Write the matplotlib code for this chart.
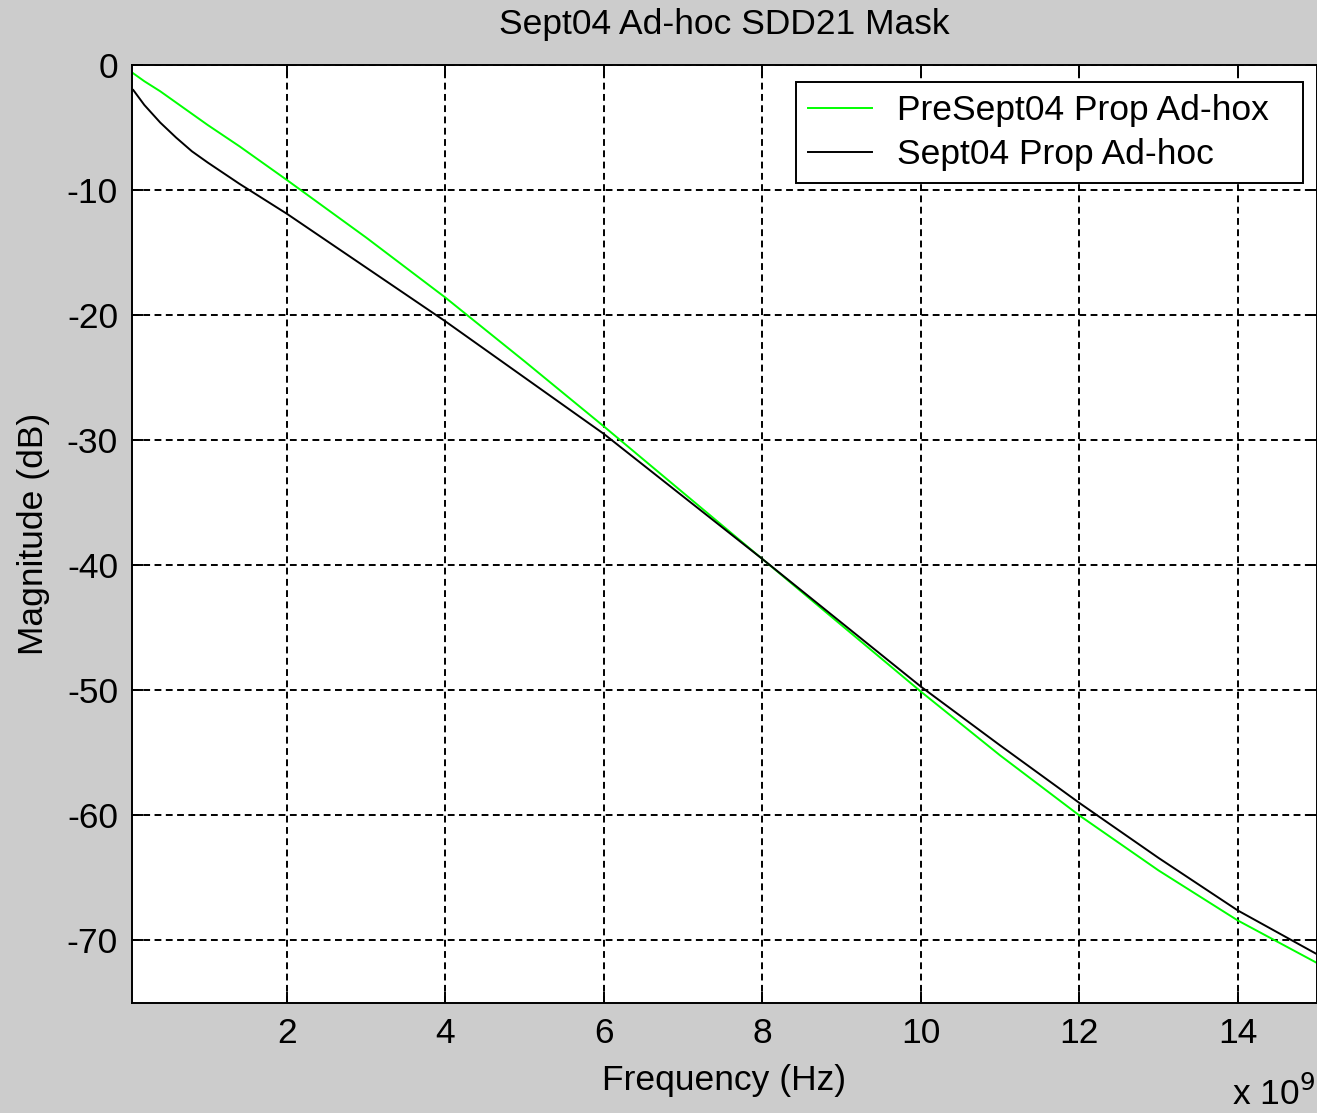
import numpy as np
import matplotlib.pyplot as plt

# Frequency in units of 1e9 Hz
freq = [0.045, 0.2, 0.4, 0.6, 0.8, 1, 1.4, 2, 3, 4, 5, 6, 7, 8, 9, 10, 11, 12, 13, 14, 15]
pre_sept04 = [-0.6, -1.3, -2.1, -3.0, -3.9, -4.8, -6.5, -9.2, -13.8, -18.6, -23.7,
              -28.9, -34.2, -39.5, -44.8, -50.1, -55.2, -60.0, -64.4, -68.4, -71.8]
freq_b = [0.06, 0.2, 0.4, 0.6, 0.8, 1, 1.4, 2, 3, 4, 5, 6, 7, 8, 9, 10, 11, 12, 13, 14, 15]
sept04 = [-2.0, -3.2, -4.6, -5.8, -6.9, -7.8, -9.5, -11.9, -16.2, -20.5, -25.0,
          -29.5, -34.5, -39.5, -44.6, -49.7, -54.4, -59.0, -63.4, -67.6, -71.1]

xticks = [2, 4, 6, 8, 10, 12, 14]
yticks = [0, -10, -20, -30, -40, -50, -60, -70]

plt.rcParams['font.family'] = ['Liberation Sans', 'DejaVu Sans']
plt.rcParams['axes.unicode_minus'] = False
fs = 25.5

fig = plt.figure(figsize=(13.17, 11.13), dpi=100, facecolor='#cccccc')
ax = fig.add_axes([132 / 1317, 1 - 1003 / 1113, 1 - 132 / 1317, (1003 - 65) / 1113])
ax.set_facecolor('white')

ax.plot(freq, pre_sept04, color='#00ff00', lw=1.4, label='PreSept04 Prop Ad-hox')
ax.plot(freq_b, sept04, color='black', lw=1.4, label='Sept04 Prop Ad-hoc')

ax.set_xlim(0.044, 15.0)
ax.set_ylim(-75, 0)
ax.set_xticks(xticks)
ax.set_yticks(yticks)
ax.tick_params(direction='in', length=8, width=1.4, labelsize=fs, pad=10,
               top=True, right=True)
ax.grid(True, color='black', linestyle=(0, (3.5, 2.3)), linewidth=1.4)
for s in ax.spines.values():
    s.set_linewidth(1.4)

ax.set_title('Sept04 Ad-hoc SDD21 Mask', fontsize=fs, pad=22)
ax.set_xlabel('Frequency (Hz)', fontsize=fs, labelpad=10)
ax.set_ylabel('Magnitude (dB)', fontsize=fs, labelpad=12)
fig.text(1315 / 1317, 1 - 1105 / 1113, 'x 10$^9$', fontsize=fs, va='baseline', ha='right')

leg = ax.legend(loc='upper left', bbox_to_anchor=(0.5603, 0.4, 0.4279, 0.5819),
                mode='expand', borderaxespad=0, fontsize=fs, fancybox=False,
                framealpha=1, edgecolor='black', handlelength=1.8, handletextpad=0.7,
                borderpad=0.35, labelspacing=0.3)
leg.get_frame().set_linewidth(1.4)

fig.savefig('out.png', dpi=100, facecolor=fig.get_facecolor())
